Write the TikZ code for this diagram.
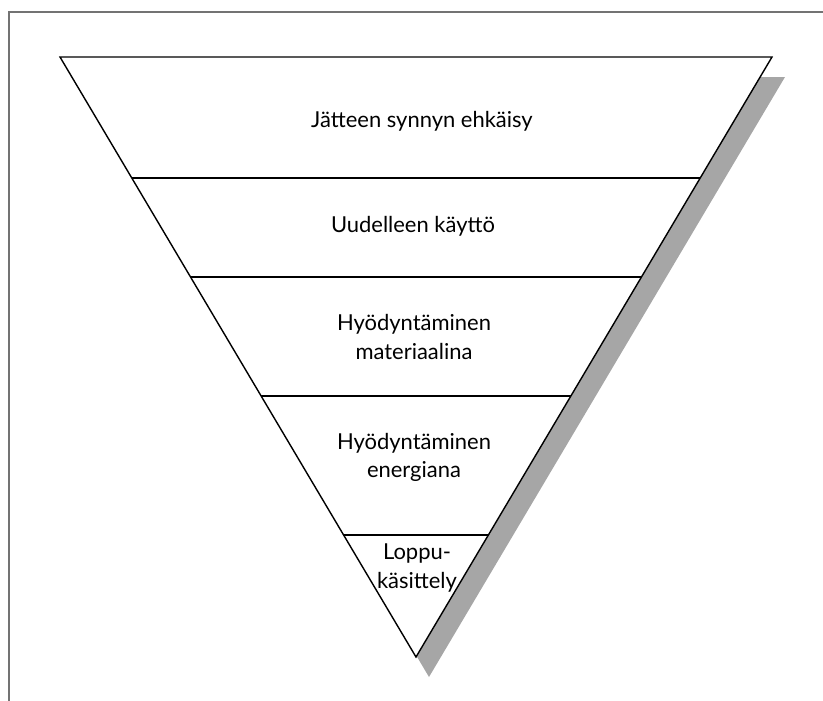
\documentclass[tikz,border=0pt]{standalone}
\usepackage{fontspec}
\setmainfont{Lato}
\usetikzlibrary{positioning, calc}

\tikzset{
    label/.style={align=center, inner sep=1pt, font=\fontsize{12.5}{16}\selectfont},
    edge/.style={black, line width=0.8pt},
    frame/.style={black!55, line width=1pt}
}

\begin{document}
\begin{tikzpicture}[x=0.02cm, y=-0.02cm]
    \def\shiftx{13}
    \def\shifty{20}

    \useasboundingbox (0,0) rectangle (823,701);

    \coordinate (tl) at (60,57);
    \coordinate (tr) at (772,57);
    \coordinate (tip) at (416,657);

    % page frame
    \draw[frame] (823,12) -- (9,12) -- (9,701);

    % shadow
    \fill[gray!70]
        ($(tl)+(\shiftx,\shifty)$) -- ($(tr)+(\shiftx,\shifty)$) -- ($(tip)+(\shiftx,\shifty)$) -- cycle;

    % triangle
    \draw[edge, fill=white] (tl) -- (tr) -- (tip) -- cycle;

    % levels
    \foreach \t in {0.2017, 0.3667, 0.565, 0.7967}
    {
        \draw[edge] ($(tl)!\t!(tip)$) -- ($(tr)!\t!(tip)$);
    }

    \foreach \name/\x/\y/\txt in {
        prevent/422/121/J\"atteen synnyn ehk\"aisy,
        reuse/413/226/Uudelleen k\"aytt\"o,
        material/414/337/Hy\"odynt\"aminen\\materiaalina,
        energy/414/457/Hy\"odynt\"aminen\\energiana,
        disposal/417/568/Loppu-\\k\"asittely}{

        \node[label] (\name) at (\x,\y) {\txt};
    }
\end{tikzpicture}
\end{document}
